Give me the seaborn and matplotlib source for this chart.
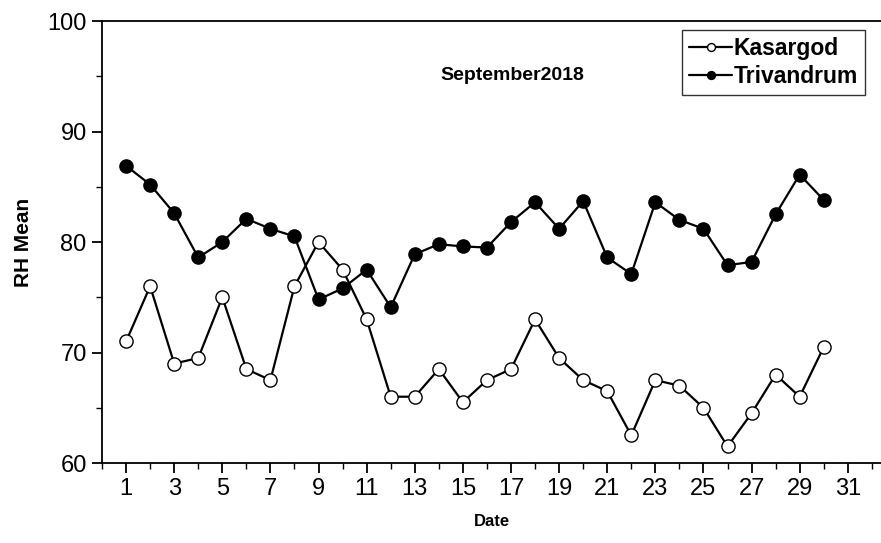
import matplotlib
matplotlib.use("Agg")
import matplotlib.pyplot as plt
import seaborn as sns
import pandas as pd
from matplotlib.ticker import MultipleLocator

days = list(range(1, 31))
kasargod = [71.0, 76.0, 69.0, 69.5, 75.0, 68.5, 67.5, 76.0, 80.0, 77.5,
            73.0, 66.0, 66.0, 68.5, 65.5, 67.5, 68.5, 73.0, 69.5, 67.5,
            66.5, 62.5, 67.5, 67.0, 65.0, 61.5, 64.5, 68.0, 66.0, 70.5]
trivandrum = [86.9, 85.2, 82.6, 78.6, 80.0, 82.1, 81.2, 80.5, 74.8, 75.8,
              77.5, 74.1, 78.9, 79.8, 79.6, 79.5, 81.8, 83.6, 81.2, 83.7,
              78.6, 77.1, 83.6, 82.0, 81.2, 77.9, 78.2, 82.5, 86.1, 83.8]
xticks = list(range(1, 32, 2))
yticks = [60, 70, 80, 90, 100]

sns.set_theme(style="white")
plt.rcParams['font.family'] = ['Liberation Sans', 'DejaVu Sans']
plt.rcParams['text.color'] = 'black'
plt.rcParams['axes.labelcolor'] = 'black'

df = pd.DataFrame({"Date": days, "Kasargod": kasargod, "Trivandrum": trivandrum})

fig = plt.figure(figsize=(8.81, 5.43), dpi=100)
ax = fig.add_axes([0.1158, 0.1473, 0.8842, 0.814])

sns.lineplot(data=df, x="Date", y="Kasargod", ax=ax, color="black", lw=1.6,
             marker="o", markersize=9.5, markerfacecolor="white",
             markeredgecolor="black", markeredgewidth=1.0, label="Kasargod")
sns.lineplot(data=df, x="Date", y="Trivandrum", ax=ax, color="black", lw=1.6,
             marker="o", markersize=9.5, markerfacecolor="black",
             markeredgecolor="black", markeredgewidth=1.0, label="Trivandrum")

ax.set_xlim(0, 32.38)
ax.set_ylim(60, 100)
ax.set_xticks(xticks)
ax.set_yticks(yticks)
ax.xaxis.set_minor_locator(MultipleLocator(1))
ax.yaxis.set_minor_locator(MultipleLocator(5))
ax.tick_params(axis="both", which="major", direction="out", length=7, width=1.3,
               labelsize=17, colors="black", bottom=True, left=True, pad=4)
ax.tick_params(axis="both", which="minor", direction="out", length=4, width=1.0,
               colors="black", bottom=True, left=True)

for s in ["left", "bottom", "top"]:
    ax.spines[s].set_visible(True)
    ax.spines[s].set_color("black")
    ax.spines[s].set_linewidth(1.3)
ax.spines["right"].set_visible(False)

ax.set_xlabel("Date", fontsize=12, fontweight="bold", labelpad=10, color="black")
ax.set_ylabel("RH Mean", fontsize=15, fontweight="bold", labelpad=10, color="black")

ax.text(17.06, 95.1, "September2018", fontsize=14, fontweight="bold",
        ha="center", va="center", color="black")

leg = ax.legend(loc="upper right", bbox_to_anchor=(0.979, 0.98), frameon=True,
                fancybox=False, edgecolor="black",
                prop={"weight": "bold", "size": 16.5}, markerscale=0.6,
                handlelength=1.9, handletextpad=0.05, borderpad=0.3,
                labelspacing=0.25, borderaxespad=0)
leg.get_frame().set_linewidth(1.0)
for t in leg.get_texts():
    t.set_color("black")

fig.savefig("out.png", dpi=100)
